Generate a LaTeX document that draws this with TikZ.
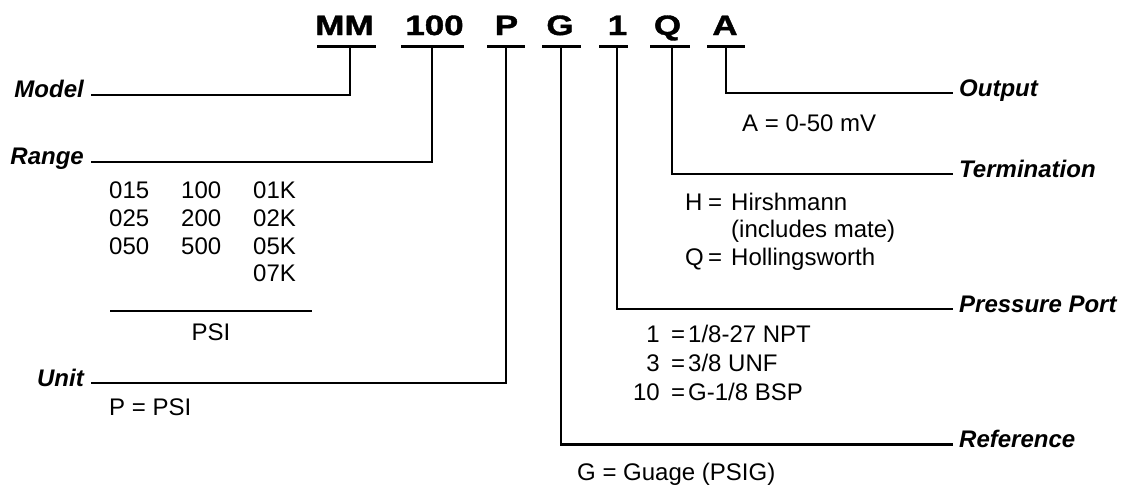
\documentclass[tikz,border=0pt]{standalone}
\usepackage{fontspec}
\setmainfont{Liberation Sans}
\newfontfamily\codefont{Liberation Sans Bold}[FakeBold=1.3]
\usepackage{graphicx}
\begin{document}
\begin{tikzpicture}[x=1pt,y=-1pt,
  ln/.style={line width=2.5pt, line join=miter},
  thin/.style={line width=1.3pt},
  code/.style={inner sep=0pt, anchor=base, font=\fontsize{28}{32}\selectfont\codefont},
  lbl/.style={inner sep=0pt, font=\fontsize{24}{28}\selectfont\bfseries\itshape},
  txt/.style={inner sep=0pt, anchor=base west, font=\fontsize{24}{28}\selectfont},
  txtr/.style={inner sep=0pt, anchor=base east, font=\fontsize{24}{28}\selectfont},
  txtc/.style={inner sep=0pt, anchor=base, font=\fontsize{24}{28}\selectfont}
]
\useasboundingbox (0,0) rectangle (1125,485);

% code letters
\node[code] (cMM) at (344.5,35) {\scalebox{1.25}[1]{MM}};
\node[code] (c100) at (434.5,35) {\scalebox{1.25}[1]{100}};
\node[code] (cP) at (506.5,35) {\scalebox{1.25}[1]{P}};
\node[code] (cG) at (560,35) {\scalebox{1.25}[1]{G}};
\node[code] (c1) at (617.5,35) {\scalebox{1.25}[1]{1}};
\node[code] (cQ) at (667.5,35) {\scalebox{1.25}[1]{Q}};
\node[code] (cA) at (725,35) {\scalebox{1.25}[1]{A}};

% underlines
\draw[ln] (317,46.7) -- (376,46.7);
\draw[ln] (401,46.7) -- (464,46.7);
\draw[ln] (487,46.7) -- (525,46.7);
\draw[ln] (542,46.7) -- (581,46.7);
\draw[ln] (599,46.7) -- (628,46.7);
\draw[ln] (650,46.7) -- (690,46.7);
\draw[ln] (707,46.7) -- (745,46.7);

% connector start points
\coordinate (uMM) at (350,46.7);
\coordinate (u100) at (432,46.7);
\coordinate (uP) at (506,46.7);
\coordinate (uG) at (561,46.7);
\coordinate (u1) at (617,46.7);
\coordinate (uQ) at (672,46.7);
\coordinate (uA) at (726,46.7);

% left labels
\node[lbl, anchor=base east] (lModel) at (84,97) {Model};
\node[lbl, anchor=base east] (lRange) at (84,164.5) {Range};
\node[lbl, anchor=base east] (lUnit) at (84,386) {Unit};
\coordinate (eModel) at (91,95);
\coordinate (eRange) at (91,162);
\coordinate (eUnit) at (91,383);

% right labels
\node[lbl, anchor=base west] (lOutput) at (959,96) {Output};
\node[lbl, anchor=base west] (lTerm) at (959,177) {Termination};
\node[lbl, anchor=base west] (lPort) at (959,312) {Pressure Port};
\node[lbl, anchor=base west] (lRef) at (959,447.5) {Reference};
\coordinate (eOutput) at (953,93);
\coordinate (eTerm) at (953,174);
\coordinate (ePort) at (953,309);
\coordinate (eRef) at (953,444.5);

% connectors
\draw[ln] (uMM) |- (eModel);
\draw[ln] (u100) |- (eRange);
\draw[ln] (uP) |- (eUnit);
\draw[ln] (uA) |- (eOutput);
\draw[ln] (uQ) |- (eTerm);
\draw[ln] (u1) |- (ePort);
\draw[ln] (uG) |- (eRef);

% range table
\node[txt] (r11) at (109,198.3) {015};
\node[txt] (r12) at (181,198.3) {100};
\node[txt] (r13) at (253,198.3) {01K};
\node[txt] (r21) at (109,226.7) {025};
\node[txt] (r22) at (181,226.7) {200};
\node[txt] (r23) at (253,226.7) {02K};
\node[txt] (r31) at (109,254.3) {050};
\node[txt] (r32) at (181,254.3) {500};
\node[txt] (r33) at (253,254.3) {05K};
\node[txt] (r43) at (253,281.7) {07K};
\draw[thin] (110,311) -- (312,311);
\node[txtc] (psi) at (211,340.5) {PSI};

% unit
\node[txt] (unitv) at (109,415) {P = PSI};

% output
\node[txt] (outv) at (742,131) {A = 0-50 mV};

% termination
\node[txt] (tH) at (685,210) {H};
\node[txt] (tHe) at (708,210) {=};
\node[txt] (tHv) at (731,210) {Hirshmann};
\node[txt] (tHv2) at (731,237.5) {(includes mate)};
\node[txt] (tQ) at (685,265) {Q};
\node[txt] (tQe) at (708,265) {=};
\node[txt] (tQv) at (731,265) {Hollingsworth};

% pressure port
\node[txtr] (p1) at (660,342.7) {1};
\node[txt] (p1e) at (671,342.7) {=};
\node[txt] (p1v) at (688,342.7) {1/8-27 NPT};
\node[txtr] (p3) at (660,371.7) {3};
\node[txt] (p3e) at (671,371.7) {=};
\node[txt] (p3v) at (688,371.7) {3/8 UNF};
\node[txtr] (p10) at (660,400) {10};
\node[txt] (p10e) at (671,400) {=};
\node[txt] (p10v) at (688,400) {G-1/8 BSP};

% reference
\node[txt] (refv) at (577,480) {G = Guage (PSIG)};
\end{tikzpicture}
\end{document}
